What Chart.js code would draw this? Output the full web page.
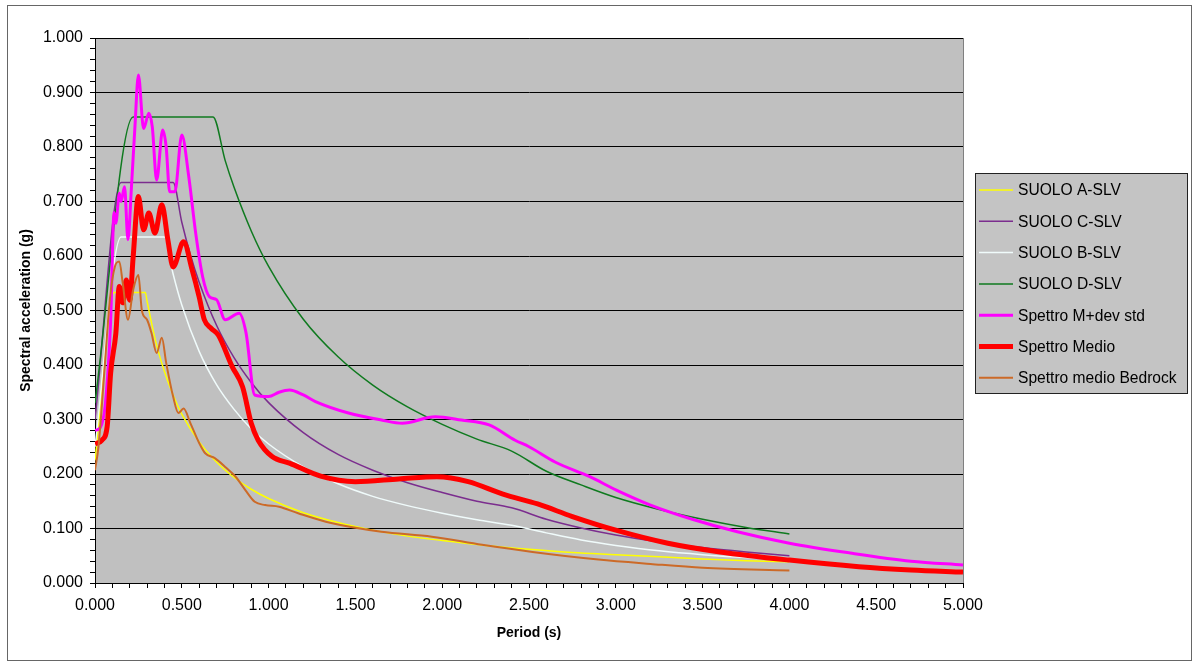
<!DOCTYPE html>
<html>
<head>
<meta charset="utf-8">
<script src="https://cdn.jsdelivr.net/npm/chart.js@4.4.0/dist/chart.umd.min.js"></script>
<style>
  html, body { margin: 0; padding: 0; background: #fff; }
  #wrap { width: 1199px; height: 667px; }
</style>
</head>
<body>
<div id="wrap"><canvas id="spectra"></canvas></div>
<script>
// period T (s) and spectral acceleration Sa (g)
const suoloA_T  = [0.00, 0.11, 0.29, 0.30, 0.35, 0.40, 0.45, 0.50, 0.60, 0.70, 0.80, 0.90, 1.00, 1.20, 1.40, 1.60, 1.80, 2.00, 2.25, 2.50, 2.75, 3.00, 3.25, 3.50, 3.75, 4.00];
const suoloA_Sa = [0.225, 0.533, 0.533, 0.517, 0.443, 0.388, 0.345, 0.310, 0.259, 0.222, 0.194, 0.172, 0.155, 0.129, 0.111, 0.097, 0.086, 0.078, 0.069, 0.062, 0.056, 0.052, 0.048, 0.044, 0.041, 0.039];

const suoloC_T  = [0.00, 0.15, 0.45, 0.50, 0.55, 0.60, 0.70, 0.80, 0.90, 1.00, 1.20, 1.40, 1.60, 1.80, 2.00, 2.20, 2.40, 2.60, 2.80, 3.00, 3.25, 3.50, 3.75, 4.00];
const suoloC_Sa = [0.300, 0.735, 0.735, 0.662, 0.602, 0.552, 0.473, 0.414, 0.368, 0.331, 0.276, 0.236, 0.207, 0.184, 0.166, 0.150, 0.138, 0.117, 0.101, 0.088, 0.075, 0.065, 0.057, 0.050];

const suoloB_T  = [0.00, 0.15, 0.40, 0.45, 0.50, 0.60, 0.70, 0.80, 0.90, 1.00, 1.20, 1.40, 1.60, 1.80, 2.00, 2.20, 2.40, 2.60, 2.80, 3.00, 3.25, 3.50, 3.75, 4.00];
const suoloB_Sa = [0.250, 0.635, 0.635, 0.567, 0.510, 0.425, 0.364, 0.319, 0.283, 0.255, 0.213, 0.182, 0.159, 0.142, 0.128, 0.116, 0.106, 0.092, 0.079, 0.069, 0.059, 0.052, 0.047, 0.045];

const suoloD_T  = [0.00, 0.22, 0.68, 0.75, 0.80, 0.90, 1.00, 1.20, 1.40, 1.60, 1.80, 2.00, 2.20, 2.40, 2.60, 2.80, 3.00, 3.25, 3.50, 3.75, 4.00];
const suoloD_Sa = [0.330, 0.855, 0.855, 0.775, 0.727, 0.646, 0.581, 0.484, 0.415, 0.363, 0.323, 0.291, 0.264, 0.242, 0.205, 0.180, 0.157, 0.135, 0.117, 0.102, 0.090];

const mDev_T  = [0.00, 0.03, 0.06, 0.09, 0.11, 0.12, 0.14, 0.15, 0.17, 0.19, 0.21, 0.23, 0.25, 0.28, 0.31, 0.33, 0.355, 0.39, 0.41, 0.43, 0.46, 0.50, 0.54, 0.58, 0.62, 0.66, 0.70, 0.75, 0.83, 0.87, 0.92, 1.00, 1.06, 1.12, 1.20, 1.27, 1.46, 1.65, 1.77, 1.96, 2.11, 2.27, 2.42, 2.50, 2.65, 2.85, 3.00, 3.20, 3.45, 3.70, 4.00, 4.35, 4.70, 5.00];
const mDev_Sa = [0.280, 0.285, 0.330, 0.480, 0.680, 0.660, 0.715, 0.700, 0.727, 0.630, 0.727, 0.837, 0.932, 0.834, 0.862, 0.837, 0.739, 0.831, 0.800, 0.718, 0.718, 0.822, 0.746, 0.642, 0.562, 0.525, 0.520, 0.483, 0.495, 0.459, 0.345, 0.342, 0.350, 0.354, 0.345, 0.333, 0.312, 0.299, 0.293, 0.305, 0.299, 0.290, 0.262, 0.250, 0.222, 0.195, 0.171, 0.143, 0.116, 0.094, 0.073, 0.055, 0.040, 0.033];

const medio_T  = [0.00, 0.04, 0.07, 0.09, 0.12, 0.14, 0.16, 0.18, 0.20, 0.22, 0.25, 0.28, 0.31, 0.345, 0.385, 0.42, 0.45, 0.51, 0.56, 0.60, 0.63, 0.67, 0.71, 0.79, 0.85, 0.90, 0.94, 1.02, 1.12, 1.30, 1.50, 1.75, 1.97, 2.15, 2.35, 2.55, 2.75, 3.00, 3.30, 3.60, 4.00, 4.40, 4.70, 5.00];
const medio_Sa = [0.255, 0.262, 0.287, 0.385, 0.458, 0.544, 0.514, 0.556, 0.519, 0.599, 0.709, 0.648, 0.679, 0.642, 0.694, 0.629, 0.580, 0.626, 0.574, 0.525, 0.483, 0.467, 0.455, 0.397, 0.360, 0.293, 0.262, 0.232, 0.220, 0.196, 0.186, 0.191, 0.195, 0.186, 0.163, 0.145, 0.122, 0.097, 0.073, 0.057, 0.042, 0.030, 0.024, 0.020];

const bedrock_T  = [0.00, 0.02, 0.056, 0.085, 0.114, 0.14, 0.16, 0.19, 0.22, 0.25, 0.27, 0.30, 0.325, 0.355, 0.385, 0.41, 0.45, 0.48, 0.51, 0.55, 0.60, 0.635, 0.69, 0.75, 0.81, 0.865, 0.92, 0.98, 1.06, 1.17, 1.36, 1.65, 1.94, 2.23, 2.52, 2.90, 3.20, 3.50, 4.00];
const bedrock_Sa = [0.207, 0.250, 0.397, 0.519, 0.580, 0.590, 0.550, 0.483, 0.538, 0.565, 0.500, 0.483, 0.459, 0.422, 0.450, 0.404, 0.342, 0.312, 0.320, 0.293, 0.257, 0.238, 0.229, 0.213, 0.195, 0.171, 0.149, 0.143, 0.140, 0.128, 0.110, 0.094, 0.085, 0.070, 0.057, 0.043, 0.035, 0.028, 0.023];

const seriesNames  = ['SUOLO A-SLV', 'SUOLO C-SLV', 'SUOLO B-SLV', 'SUOLO D-SLV', 'Spettro M+dev std', 'Spettro Medio', 'Spettro medio Bedrock'];
const seriesColors = ['#ffff00', '#7b2d8e', '#f0fbfb', '#0f7a1f', '#ff00ff', '#ff0000', '#cc6a28'];
const seriesWidths = [1.5, 1.5, 1.5, 1.5, 3, 5, 2];

const periods = [suoloA_T, suoloC_T, suoloB_T, suoloD_T, mDev_T, medio_T, bedrock_T];
const values  = [suoloA_Sa, suoloC_Sa, suoloB_Sa, suoloD_Sa, mDev_Sa, medio_Sa, bedrock_Sa];

const FONT = '"Liberation Sans", Arial, sans-serif';

const datasets = seriesNames.map((name, i) => ({
  label: name,
  data: periods[i].map((t, k) => ({ x: t, y: values[i][k] })),
  borderColor: seriesColors[i],
  borderWidth: seriesWidths[i],
  borderJoinStyle: 'round',
  pointRadius: 0,
  fill: false,
  cubicInterpolationMode: 'monotone',
  order: seriesNames.length - i   // later series on top, as in the sheet
}));

// plot background, frame and the boxed legend on the right
const sheetLook = {
  id: 'sheetLook',
  beforeDraw(chart) {
    const { ctx, chartArea: a } = chart;
    ctx.save();
    ctx.fillStyle = '#fff';
    ctx.fillRect(0, 0, chart.width, chart.height);
    ctx.strokeStyle = '#666';
    ctx.lineWidth = 1;
    ctx.strokeRect(7.5, 5.5, chart.width - 15, chart.height - 12);
    ctx.fillStyle = '#c0c0c0';
    ctx.fillRect(a.left, a.top, a.right - a.left, a.bottom - a.top);
    ctx.strokeStyle = '#808080';
    ctx.strokeRect(a.left + 0.5, a.top + 0.5, a.right - a.left, a.bottom - a.top);
    ctx.restore();
  },
  afterDraw(chart) {
    const ctx = chart.ctx;
    const box = { x: 975.5, y: 173.5, w: 212, h: 220 };
    ctx.save();
    ctx.fillStyle = '#c4c4c4';
    ctx.fillRect(box.x, box.y, box.w, box.h);
    ctx.strokeStyle = '#222';
    ctx.lineWidth = 1;
    ctx.strokeRect(box.x, box.y, box.w, box.h);
    ctx.font = '15.6px ' + FONT;
    ctx.textBaseline = 'middle';
    chart.data.datasets.forEach((ds, i) => {
      const y = 190 + i * 31.3;
      ctx.beginPath();
      ctx.strokeStyle = ds.borderColor;
      ctx.lineWidth = ds.borderWidth;
      ctx.moveTo(979, y);
      ctx.lineTo(1013, y);
      ctx.stroke();
      ctx.fillStyle = '#000';
      ctx.fillText(ds.label, 1018, y + 1);
    });
    ctx.restore();
  }
};

const isMultiple = (v, step) => Math.abs(v / step - Math.round(v / step)) < 1e-6;

new Chart(document.getElementById('spectra'), {
  type: 'line',
  data: { datasets },
  options: {
    responsive: true,
    maintainAspectRatio: false,
    animation: false,
    layout: { padding: { left: 0, right: 236, top: 38, bottom: 0 } },
    plugins: { legend: { display: false }, tooltip: { enabled: false } },
    scales: {
      x: {
        type: 'linear',
        min: 0,
        max: 5,
        ticks: {
          stepSize: 0.1,
          autoSkip: false,
          maxRotation: 0,
          color: '#000',
          padding: 8,
          font: { family: FONT, size: 16 },
          callback: v => isMultiple(v, 0.5) ? v.toFixed(3) : ''
        },
        grid: { drawOnChartArea: false, color: '#000', tickLength: 5 },
        border: { color: '#000', width: 1 },
        title: {
          display: true,
          text: 'Period (s)',
          color: '#000',
          font: { family: FONT, size: 14, weight: 'bold' },
          padding: { top: 0, bottom: 25 }
        },
        afterFit: s => { s.height = 84; }
      },
      y: {
        min: 0,
        max: 1,
        ticks: {
          stepSize: 0.02,
          autoSkip: false,
          color: '#000',
          padding: 7,
          font: { family: FONT, size: 16 },
          callback: v => isMultiple(v, 0.1) ? v.toFixed(3) : ''
        },
        grid: {
          color: c => isMultiple(c.tick.value, 0.1) ? '#000' : 'rgba(0,0,0,0)',
          tickColor: '#000',
          tickLength: 5
        },
        border: { color: '#000', width: 1 },
        title: {
          display: true,
          text: 'Spectral acceleration (g)',
          color: '#000',
          font: { family: FONT, size: 14, weight: 'bold' },
          padding: { top: 18, bottom: 0 }
        },
        afterFit: s => { s.width = 95; }
      }
    }
  },
  plugins: [sheetLook]
});
</script>
</body>
</html>
